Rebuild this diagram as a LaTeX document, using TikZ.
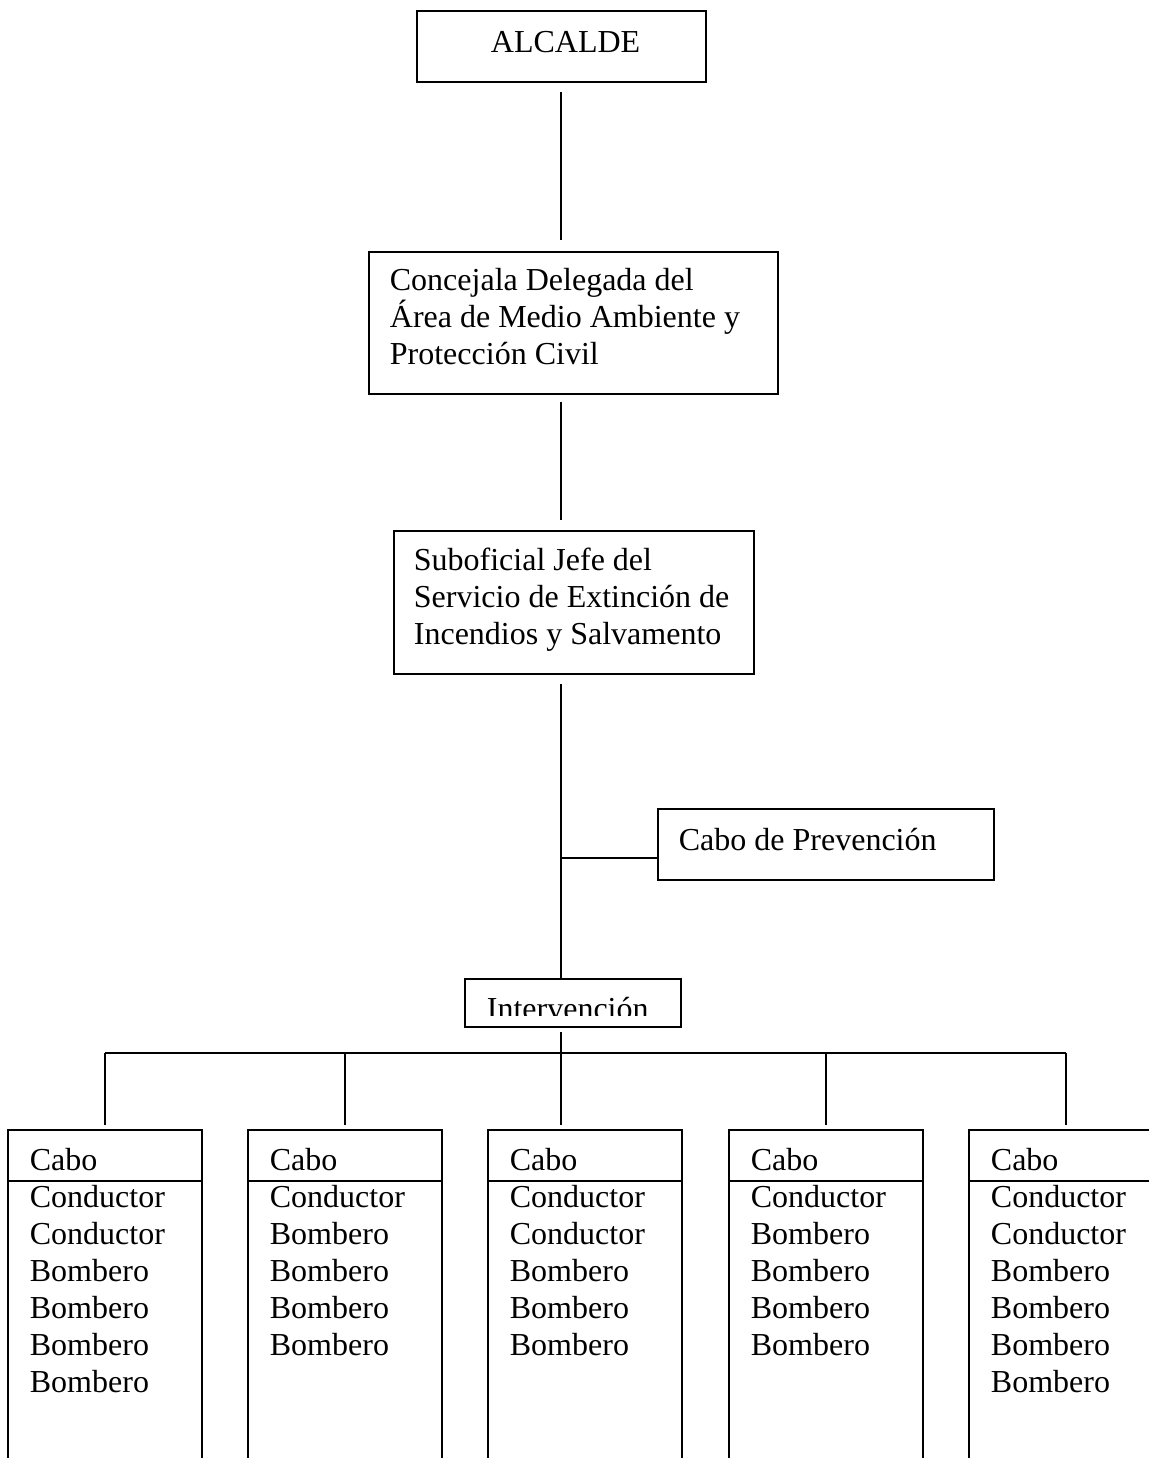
\documentclass[tikz,border=0pt]{standalone}
\usepackage{fontspec}
\setmainfont{Liberation Serif}
\usepackage{tikz}
\tikzstyle{caja}=[draw,line width=0.9pt,inner sep=0pt,anchor=north west]
\tikzstyle{grupo}=[inner sep=0pt,anchor=north west,
                   minimum width=96pt,minimum height=170pt]
\tikzstyle{texto}=[inner sep=0pt,anchor=base west,align=left,
                   font=\fontsize{16}{18.5}\selectfont]

\begin{document}
\begin{tikzpicture}[x=0.5pt,y=-0.5pt,line width=0.9pt]
    \useasboundingbox (0,0) rectangle (1149,1458);
    % cajas de mando
    \node (alcalde) at (416,10) [caja,minimum width=144.5pt,minimum height=35.5pt]{};
    \node (concejala) at (368,251) [caja,minimum width=204.5pt,minimum height=71pt]{};
    \node (suboficial) at (393,530) [caja,minimum width=180pt,minimum height=71.5pt]{};
    \node (prevencion) at (657,808) [caja,minimum width=168pt,minimum height=35.5pt]{};
    \node (intervencion) at (464,978) [caja,minimum width=108pt,minimum height=24pt]{};
    % textos (anclados en la linea base de la ultima fila)
    \node (t-alcalde) at (490,52) [texto]{ALCALDE};
    \node (t-concejala) at (389,364) [texto]{Concejala Delegada del\\
      Área de Medio Ambiente y\\Protección Civil};
    \node (t-suboficial) at (413,644) [texto]{Suboficial Jefe del\\
      Servicio de Extinción de\\Incendios y Salvamento};
    \node (t-prevencion) at (678,850) [texto]{Cabo de Prevención};
    \begin{scope}
      \clip (464,978) rectangle (680,1015);
      \node (t-intervencion) at (486,1019) [texto]{Intervención};
    \end{scope}
    % grupos
    \node (g1) at (8,1130) [grupo]{};
    \node (g2) at (248,1130) [grupo]{};
    \node (g3) at (488,1130) [grupo]{};
    \node (g4) at (729,1130) [grupo]{};
    \node (g5) at (969,1130) [grupo]{};
    \foreach \g in {g1,g2,g3,g4,g5}{
      \draw (\g.south west) |- (\g.north east) -- (\g.south east);
      \draw ([yshift=-25.5pt]\g.north west) -- ([yshift=-25.5pt]\g.north east);
    }
    \node (t-g1) at (29,1392) [texto]{Cabo\\Conductor\\Conductor\\Bombero\\Bombero\\Bombero\\Bombero};
    \node (t-g2) at (269,1355) [texto]{Cabo\\Conductor\\Bombero\\Bombero\\Bombero\\Bombero};
    \node (t-g3) at (509,1355) [texto]{Cabo\\Conductor\\Conductor\\Bombero\\Bombero\\Bombero};
    \node (t-g4) at (750,1355) [texto]{Cabo\\Conductor\\Bombero\\Bombero\\Bombero\\Bombero};
    \node (t-g5) at (990,1392) [texto]{Cabo\\Conductor\\Conductor\\Bombero\\Bombero\\Bombero\\Bombero};
    % lineas
    \coordinate (eje) at (561,0);
    \coordinate (rama) at (561,858);
    \coordinate (bus) at (0,1053);
    \draw[shorten <=4.5pt,shorten >=5.5pt] (eje |- alcalde.south) -- (eje |- concejala.north);
    \draw[shorten <=3.5pt,shorten >=5pt] (eje |- concejala.south) -- (eje |- suboficial.north);
    \draw[shorten <=4.5pt] (eje |- suboficial.south) -- (eje |- intervencion.north);
    \draw (rama) -- (rama -| prevencion.west);
    \draw[shorten <=2pt] (eje |- intervencion.south) -- (eje |- bus);
    \draw (g1.north |- bus) -- (g5.north |- bus);
    \foreach \g in {g1,g2,g4,g5}
      \draw[shorten >=2.5pt] (\g.north |- bus) -- (\g.north);
    \draw[shorten >=2.5pt] (eje |- bus) -- (eje |- g3.north);
\end{tikzpicture}
\end{document}
